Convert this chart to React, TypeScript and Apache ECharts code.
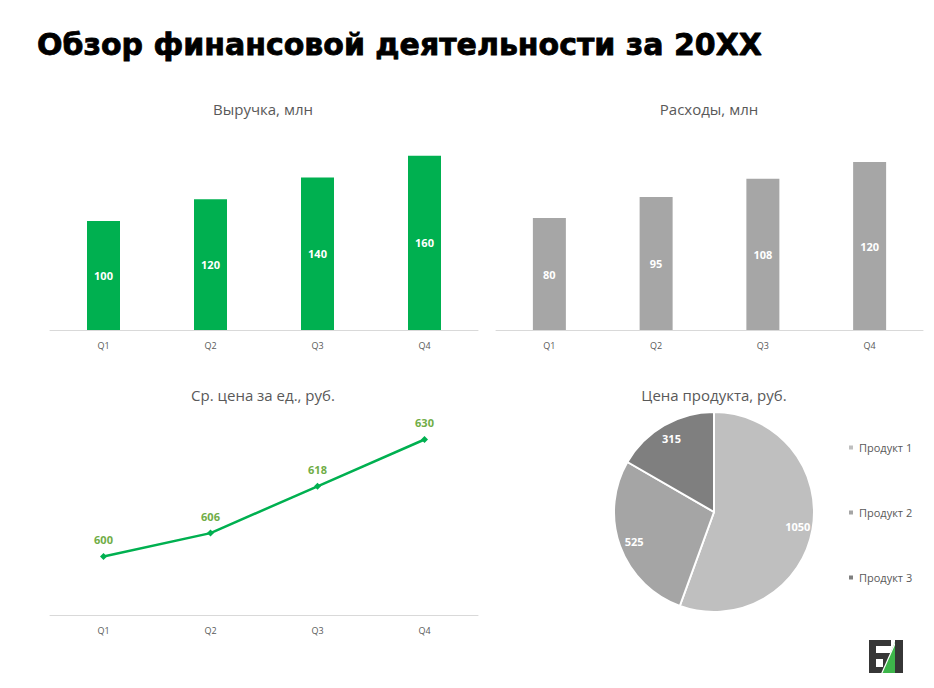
import React, { useEffect, useRef } from "react";
import * as echarts from "echarts";

const quarters = ["Q1", "Q2", "Q3", "Q4"];
const revenue = [100, 120, 140, 160];
const expenses = [80, 95, 108, 120];
const avgPrice = [600, 606, 618, 630];
const productNames = ["Продукт 1", "Продукт 2", "Продукт 3"];
const productPrices = [1050, 525, 315];
const productColors = ["#bfbfbf", "#a5a5a5", "#7f7f7f"];

const FONT = "'Open Sans', 'Noto Sans', sans-serif";

export default function App() {
  const ref = useRef<HTMLDivElement>(null);
  useEffect(() => {
    if (!ref.current) return;
    const chart = echarts.init(ref.current, undefined, { renderer: "svg" });
    const xAxisCommon = {
      type: "category" as const,
      data: quarters,
      axisLine: { lineStyle: { color: "#d9d9d9", width: 1 } },
      axisTick: { show: false },
      axisLabel: { color: "#595959", fontSize: 9, margin: 11, fontFamily: FONT },
    };
    const titleStyle = (x: number, y: number, text: string) => ({
      type: "text",
      x,
      y,
      style: {
        text,
        fill: "#595959",
        font: `15px ${FONT}`,
        textAlign: "center",
        textVerticalAlign: "middle",
      },
    });
    const option: any = {
      animation: false,
      textStyle: { fontFamily: FONT },
      grid: [
        { left: 50, width: 428, top: 134, height: 196 },
        { left: 496, width: 427, top: 134, height: 196 },
        { left: 50, width: 428, top: 420, height: 195 },
      ],
      xAxis: [
        { ...xAxisCommon, gridIndex: 0 },
        { ...xAxisCommon, gridIndex: 1 },
        { ...xAxisCommon, gridIndex: 2 },
      ],
      yAxis: [
        { type: "value", gridIndex: 0, min: 0, max: 180, show: false },
        { type: "value", gridIndex: 1, min: 0, max: 140, show: false },
        { type: "value", gridIndex: 2, min: 585, max: 635, show: false },
      ],
      legend: {
        orient: "vertical",
        left: 847,
        top: 441,
        itemWidth: 6,
        itemHeight: 6,
        itemGap: 52,
        icon: "rect",
        padding: 0,
        data: productNames,
        textStyle: { fontSize: 11, color: "#595959", lineHeight: 13, fontFamily: FONT },
      },
      series: [
        {
          type: "bar",
          xAxisIndex: 0,
          yAxisIndex: 0,
          data: revenue,
          barWidth: 33,
          itemStyle: { color: "#00b050" },
          label: { show: true, position: "inside", color: "#ffffff", fontWeight: "bold", fontSize: 11, fontFamily: FONT },
        },
        {
          type: "bar",
          xAxisIndex: 1,
          yAxisIndex: 1,
          data: expenses,
          barWidth: 33,
          itemStyle: { color: "#a6a6a6" },
          label: { show: true, position: "inside", color: "#ffffff", fontWeight: "bold", fontSize: 11, fontFamily: FONT },
        },
        {
          type: "line",
          xAxisIndex: 2,
          yAxisIndex: 2,
          data: avgPrice,
          symbol: "diamond",
          symbolSize: 7,
          lineStyle: { color: "#00b050", width: 2.5 },
          itemStyle: { color: "#00b050" },
          label: { show: true, position: "top", distance: 8, color: "#70ad47", fontWeight: "bold", fontSize: 11, fontFamily: FONT },
        },
        {
          type: "pie",
          center: [714, 512],
          radius: 100,
          startAngle: 90,
          clockwise: true,
          label: { show: false },
          labelLine: { show: false },
          emphasis: { disabled: true },
          itemStyle: { borderColor: "#ffffff", borderWidth: 2 },
          data: productNames.map((n, i) => ({ name: n, value: productPrices[i], itemStyle: { color: productColors[i] } })),
        },
        {
          type: "pie",
          center: [714, 512],
          radius: [64, 100],
          startAngle: 90,
          clockwise: true,
          silent: true,
          labelLine: { show: false },
          emphasis: { disabled: true },
          itemStyle: { color: "rgba(0,0,0,0)", borderWidth: 0 },
          label: { show: true, position: "inside", color: "#ffffff", fontWeight: "bold", fontSize: 11, fontFamily: FONT, formatter: "{c}" },
          data: productNames.map((n, i) => ({ name: n, value: productPrices[i] })),
        },
      ],
      graphic: [
        {
          type: "text",
          x: 37,
          y: 44,
          style: {
            text: "Обзор финансовой деятельности за 20XX",
            fill: "#000000",
            stroke: "#000000",
            lineWidth: 0.8,
            font: `bold 30px 'DejaVu Sans', sans-serif`,
            textAlign: "left",
            textVerticalAlign: "middle",
          },
        },
        titleStyle(263, 109, "Выручка, млн"),
        titleStyle(709, 109, "Расходы, млн"),
        titleStyle(263, 395, "Ср. цена за ед., руб."),
        titleStyle(714, 395, "Цена продукта, руб."),
        {
          type: "group",
          children: [
            { type: "polygon", shape: { points: [[869, 640], [891, 640], [891, 646], [876, 646], [876, 653], [890, 653], [890, 673], [869, 673]] }, style: { fill: "#363636" } },
            { type: "rect", shape: { x: 876, y: 659, width: 7, height: 8 }, style: { fill: "#ffffff" } },
            { type: "polygon", shape: { points: [[895, 642], [895, 673], [882, 673]] }, style: { fill: "#3db54a" } },
            { type: "line", shape: { x1: 897, y1: 639, x2: 881, y2: 675 }, style: { stroke: "#ffffff", lineWidth: 1.2 } },
            { type: "rect", shape: { x: 895, y: 640, width: 8, height: 33 }, style: { fill: "#363636" } },
          ],
        },
      ],
    };
    chart.setOption(option);
    return () => chart.dispose();
  }, []);
  return (
    <div
      ref={ref}
      style={{ position: "fixed", left: 0, top: 0, width: 934, height: 688, background: "#ffffff" }}
    />
  );
}
